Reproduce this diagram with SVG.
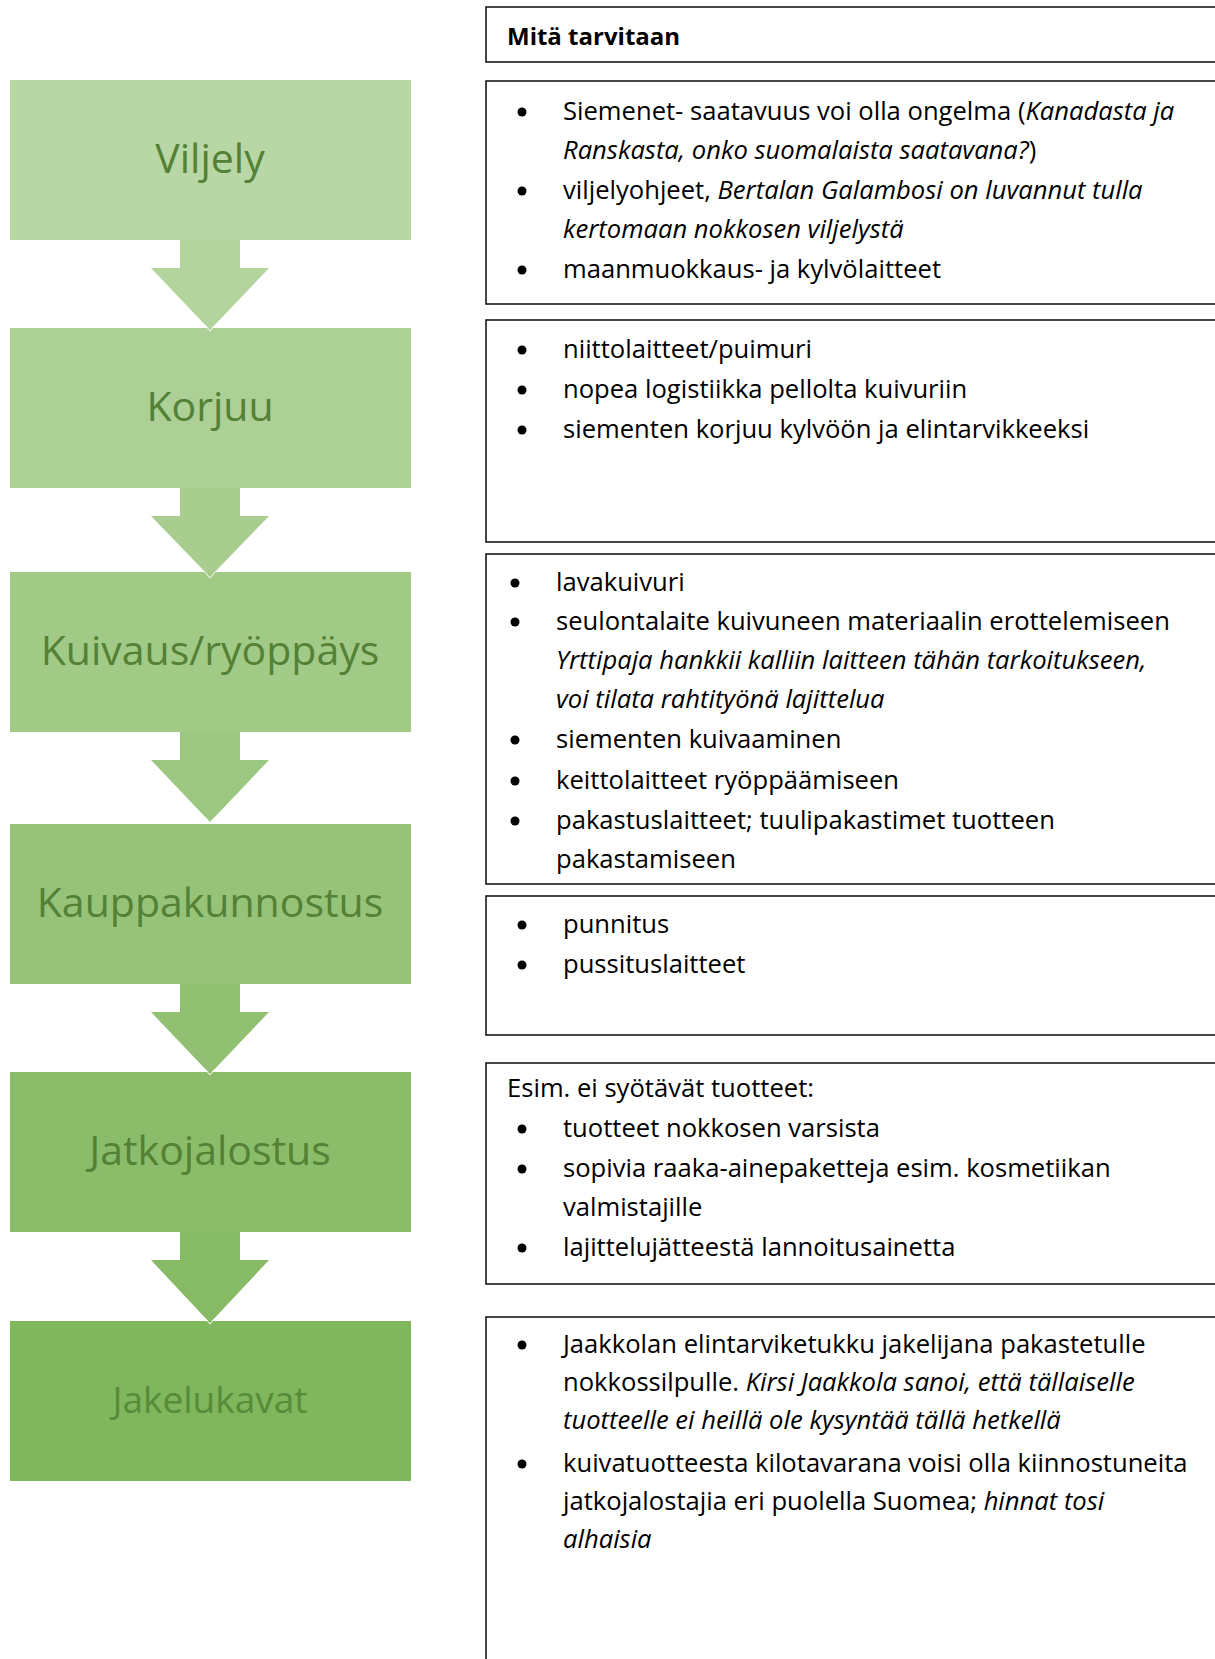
<svg xmlns="http://www.w3.org/2000/svg" width="1215" height="1659" viewBox="0 0 1215 1659">
<style>
.lbl{font-family:"Open Sans","Noto Sans",sans-serif;font-size:41px;fill:#538135;text-anchor:middle;dominant-baseline:central}
.panel{fill:#fff;stroke:#1a1a1a;stroke-width:1.6}
.t{font-family:"Open Sans","Noto Sans",sans-serif;font-size:25.6px;fill:#000}
.b{font-family:"Open Sans","Noto Sans",sans-serif;font-size:24px;fill:#000;font-weight:bold}
.i{font-style:italic}
.dot{fill:#000}
.tip{fill:none;stroke:#fff;stroke-width:1}
</style>
<rect width="1215" height="1659" fill="#fff"/>
<g id="connectors">
  <path d="M180 240 H240 V268 H269 L210 330 L151 268 H180 Z" fill="#B3D49D"/>
  <path d="M180 488 H240 V516 H269 L210 577 L151 516 H180 Z" fill="#A8CD8E"/>
  <path d="M180 732 H240 V760 H269 L210 822 L151 760 H180 Z" fill="#9CC780"/>
  <path d="M180 984 H240 V1012 H269 L210 1074 L151 1012 H180 Z" fill="#91C073"/>
  <path d="M180 1232 H240 V1260 H269 L210 1323 L151 1260 H180 Z" fill="#86BA64"/>
</g>
<g id="viljely"><rect x="10" y="80" width="401" height="160" fill="#B8D7A4"/><text class="lbl" x="210" y="157">Viljely</text></g>
<g id="korjuu"><rect x="10" y="328" width="401" height="160" fill="#ADD096"/><text class="lbl" x="210" y="405">Korjuu</text></g>
<g id="kuivaus"><rect x="10" y="572" width="401" height="160" fill="#A2CA87"/><text class="lbl" x="210" y="649">Kuivaus/ryöppäys</text></g>
<g id="kauppakunnostus"><rect x="10" y="824" width="401" height="160" fill="#97C379"/><text class="lbl" x="210" y="901">Kauppakunnostus</text></g>
<g id="jatkojalostus"><rect x="10" y="1072" width="401" height="160" fill="#8BBC6A"/><text class="lbl" x="210" y="1149">Jatkojalostus</text></g>
<g id="jakelukavat"><rect x="10" y="1321" width="401" height="160" fill="#80B65C"/><text class="lbl" x="210" y="1398" style="font-size:37px;fill:#578A39">Jakelukavat</text></g>
<g id="tips">
  <path class="tip" d="M205 325 L210 331 L215 325"/>
  <path class="tip" d="M205 572 L210 578 L215 572"/>
  <path class="tip" d="M205 817 L210 823 L215 817"/>
  <path class="tip" d="M205 1069 L210 1075 L215 1069"/>
  <path class="tip" d="M205 1318 L210 1324 L215 1318"/>
</g>
<g id="header"><rect class="panel" x="486" y="7" width="760" height="55"/><text class="b" x="507" y="45">Mitä tarvitaan</text></g>
<g id="needs-viljely">
  <rect class="panel" x="486" y="81" width="760" height="223"/>
  <circle class="dot" cx="522" cy="112" r="4.5"/><circle class="dot" cx="522" cy="191" r="4.5"/><circle class="dot" cx="522" cy="270" r="4.5"/>
  <text class="t" x="563" y="120">Siemenet- saatavuus voi olla ongelma (<tspan class="i">Kanadasta ja</tspan></text>
  <text class="t" x="563" y="159"><tspan class="i">Ranskasta, onko suomalaista saatavana?</tspan>)</text>
  <text class="t" x="563" y="199">viljelyohjeet, <tspan class="i">Bertalan Galambosi on luvannut tulla</tspan></text>
  <text class="t i" x="563" y="238">kertomaan nokkosen viljelystä</text>
  <text class="t" x="563" y="278">maanmuokkaus- ja kylvölaitteet</text>
</g>
<g id="needs-korjuu">
  <rect class="panel" x="486" y="320" width="760" height="222"/>
  <circle class="dot" cx="522" cy="350" r="4.5"/><circle class="dot" cx="522" cy="390" r="4.5"/><circle class="dot" cx="522" cy="430" r="4.5"/>
  <text class="t" x="563" y="358">niittolaitteet/puimuri</text>
  <text class="t" x="563" y="398">nopea logistiikka pellolta kuivuriin</text>
  <text class="t" x="563" y="438">siementen korjuu kylvöön ja elintarvikkeeksi</text>
</g>
<g id="needs-kuivaus">
  <rect class="panel" x="486" y="554" width="760" height="330"/>
  <circle class="dot" cx="515" cy="583" r="4.5"/><circle class="dot" cx="515" cy="622" r="4.5"/><circle class="dot" cx="515" cy="740" r="4.5"/><circle class="dot" cx="515" cy="781" r="4.5"/><circle class="dot" cx="515" cy="821" r="4.5"/>
  <text class="t" x="556" y="591">lavakuivuri</text>
  <text class="t" x="556" y="630">seulontalaite kuivuneen materiaalin erottelemiseen</text>
  <text class="t i" x="556" y="669">Yrttipaja hankkii kalliin laitteen tähän tarkoitukseen,</text>
  <text class="t i" x="556" y="708">voi tilata rahtityönä lajittelua</text>
  <text class="t" x="556" y="748">siementen kuivaaminen</text>
  <text class="t" x="556" y="789">keittolaitteet ryöppäämiseen</text>
  <text class="t" x="556" y="829">pakastuslaitteet; tuulipakastimet tuotteen</text>
  <text class="t" x="556" y="868">pakastamiseen</text>
</g>
<g id="needs-kauppakunnostus">
  <rect class="panel" x="486" y="896" width="760" height="139"/>
  <circle class="dot" cx="522" cy="925" r="4.5"/><circle class="dot" cx="522" cy="965" r="4.5"/>
  <text class="t" x="563" y="933">punnitus</text>
  <text class="t" x="563" y="973">pussituslaitteet</text>
</g>
<g id="needs-jatkojalostus">
  <rect class="panel" x="486" y="1063" width="760" height="221"/>
  <circle class="dot" cx="522" cy="1129" r="4.5"/><circle class="dot" cx="522" cy="1169" r="4.5"/><circle class="dot" cx="522" cy="1248" r="4.5"/>
  <text class="t" x="507" y="1097">Esim. ei syötävät tuotteet:</text>
  <text class="t" x="563" y="1137">tuotteet nokkosen varsista</text>
  <text class="t" x="563" y="1177">sopivia raaka-ainepaketteja esim. kosmetiikan</text>
  <text class="t" x="563" y="1216">valmistajille</text>
  <text class="t" x="563" y="1256">lajittelujätteestä lannoitusainetta</text>
</g>
<g id="needs-jakelukavat">
  <rect class="panel" x="486" y="1317" width="760" height="400"/>
  <circle class="dot" cx="522" cy="1345" r="4.5"/><circle class="dot" cx="522" cy="1464" r="4.5"/>
  <text class="t" x="563" y="1353">Jaakkolan elintarviketukku jakelijana pakastetulle</text>
  <text class="t" x="563" y="1391">nokkossilpulle. <tspan class="i">Kirsi Jaakkola sanoi, että tällaiselle</tspan></text>
  <text class="t i" x="563" y="1429">tuotteelle ei heillä ole kysyntää tällä hetkellä</text>
  <text class="t" x="563" y="1472">kuivatuotteesta kilotavarana voisi olla kiinnostuneita</text>
  <text class="t" x="563" y="1510">jatkojalostajia eri puolella Suomea; <tspan class="i">hinnat tosi</tspan></text>
  <text class="t i" x="563" y="1548">alhaisia</text>
</g>
</svg>
